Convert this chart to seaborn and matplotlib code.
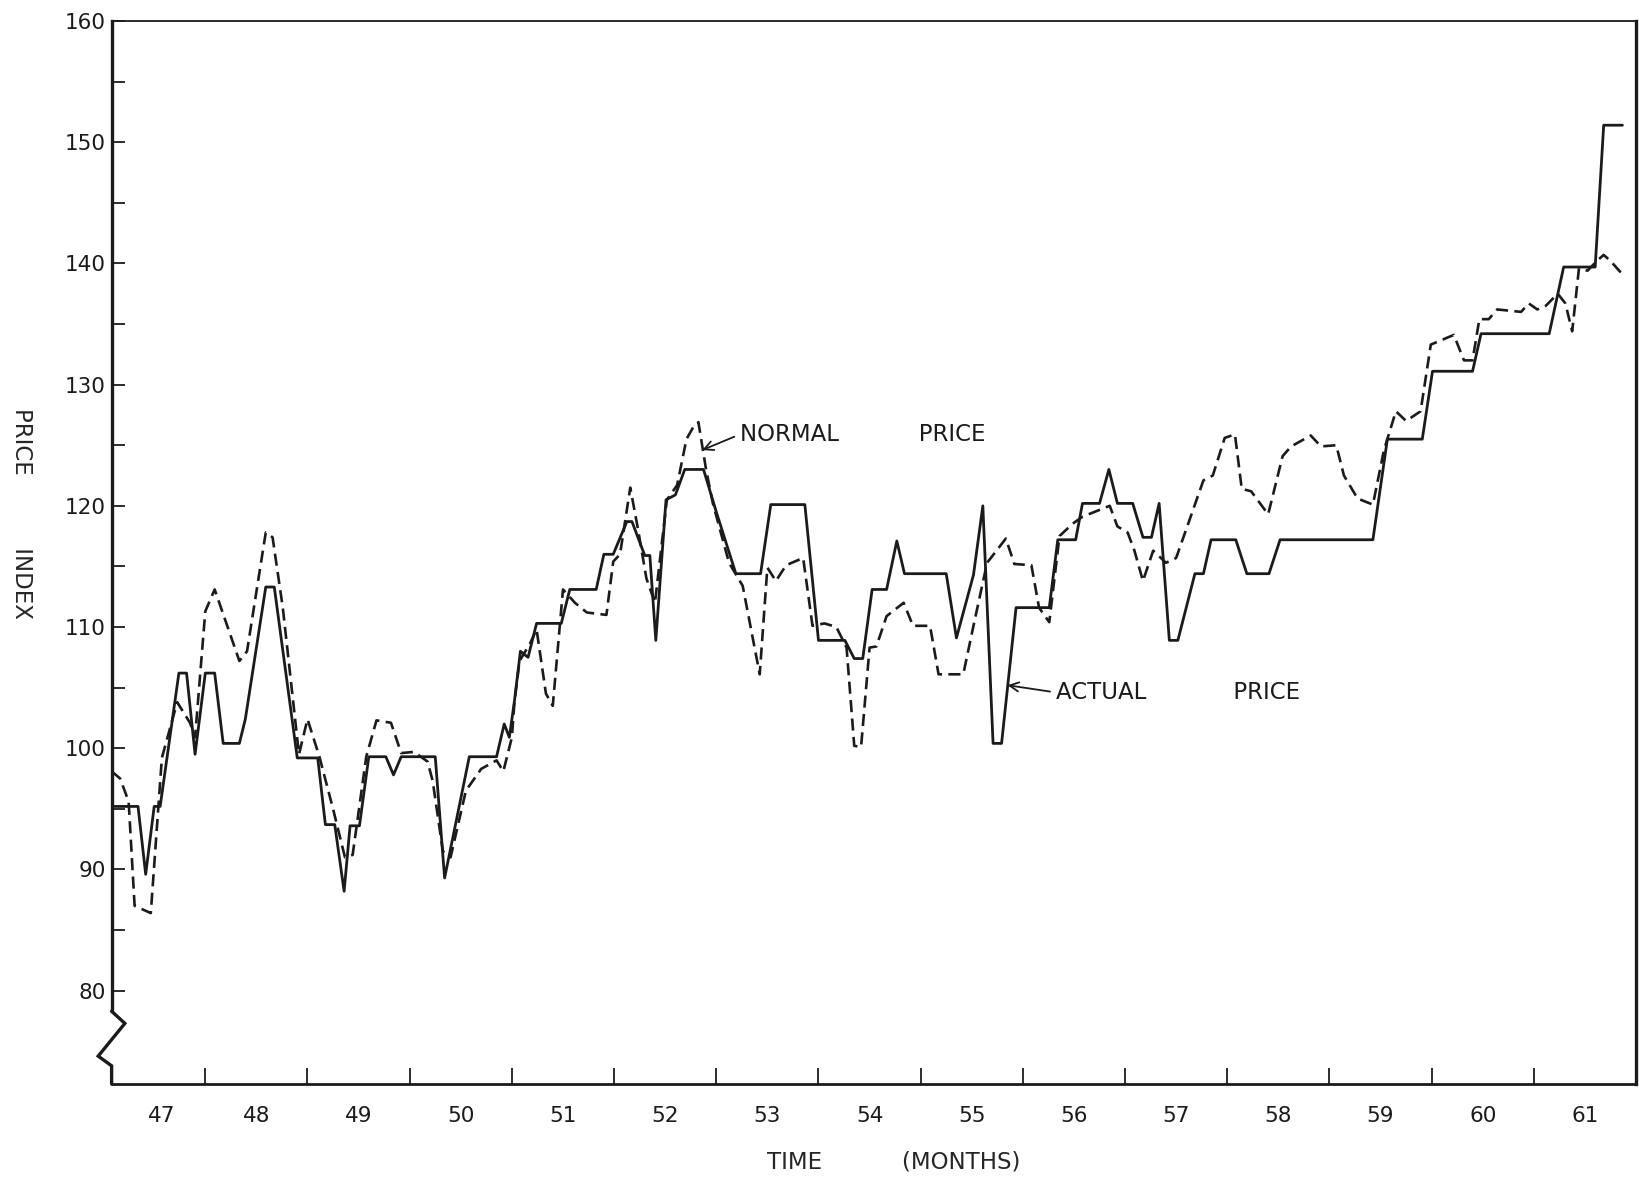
import matplotlib
matplotlib.use("Agg")
import matplotlib.pyplot as plt
import pandas as pd
import seaborn as sns

# Time axis: months counted from January 1947 (0 = Jan '47)
actual_month = [1.0, 4.1, 5.0, 6.0, 6.7, 8.9, 9.8, 10.8, 12.0, 13.1,
                14.1, 16.0, 16.7, 19.1, 20.1, 22.8, 25.2, 26.1, 27.2, 28.3,
                29.0, 30.1, 31.2, 33.2, 34.1, 35.0, 39.0, 40.1, 43.0, 46.2,
                47.1, 47.7, 48.3, 49.0, 49.9, 50.9, 53.8, 54.8, 57.9, 58.8,
                59.9, 61.5, 62.1, 63.6, 64.2, 64.9, 66.1, 67.2, 68.3, 70.5,
                72.0, 74.3, 77.2, 78.4, 82.4, 84.0, 87.1, 88.2, 89.2, 90.3,
                92.0, 93.2, 94.1, 99.0, 100.2, 102.2, 103.3, 104.5, 105.5, 107.2,
                111.1, 112.1, 114.2, 115.0, 117.0, 118.1, 119.1, 120.9, 122.1, 123.1,
                124.0, 125.2, 126.2, 128.2, 129.2, 130.1, 133.0, 134.3, 136.9, 138.2,
                149.1, 150.8, 154.9, 156.1, 160.8, 161.8, 169.8, 171.5, 175.2, 176.2,
                178.4]
actual_price = [95.2, 95.2, 89.6, 95.2, 95.2, 106.2, 106.2, 99.5, 106.2, 106.2,
                100.4, 100.4, 102.4, 113.3, 113.3, 99.2, 99.2, 93.7, 93.7, 88.2,
                93.6, 93.6, 99.3, 99.3, 97.8, 99.3, 99.3, 89.3, 99.3, 99.3,
                102.0, 100.9, 103.9, 108.0, 107.5, 110.3, 110.3, 113.1, 113.1, 116.0,
                116.0, 118.7, 118.7, 115.9, 115.9, 108.9, 120.5, 120.9, 123.0, 123.0,
                119.5, 114.4, 114.4, 120.1, 120.1, 108.9, 108.9, 107.4, 107.4, 113.1,
                113.1, 117.1, 114.4, 114.4, 109.1, 114.3, 120.0, 100.4, 100.4, 111.6,
                111.6, 117.2, 117.2, 120.2, 120.2, 123.0, 120.2, 120.2, 117.4, 117.4,
                120.2, 108.9, 108.9, 114.4, 114.4, 117.2, 117.2, 114.4, 114.4, 117.2,
                117.2, 125.5, 125.5, 131.1, 131.1, 134.2, 134.2, 139.7, 139.7, 151.4,
                151.4]

normal_month = [1.0, 2.0, 3.0, 3.7, 5.6, 6.9, 8.7, 10.2, 10.8, 12.0,
                13.1, 16.0, 16.9, 19.1, 19.9, 21.1, 23.0, 24.0, 25.4, 27.0,
                28.4, 29.3, 30.9, 32.1, 33.8, 35.0, 36.5, 38.1, 38.7, 39.9,
                40.8, 42.6, 44.4, 46.2, 47.0, 48.0, 48.3, 48.9, 50.1, 50.9,
                52.0, 52.8, 54.0, 55.4, 56.8, 59.1, 59.9, 60.7, 61.9, 62.8,
                63.8, 64.8, 66.2, 67.4, 68.5, 69.3, 69.9, 70.8, 71.6, 73.5,
                75.1, 77.1, 78.0, 79.0, 80.2, 82.2, 83.3, 84.7, 86.1, 87.3,
                88.2, 89.0, 90.0, 90.8, 92.0, 94.0, 95.1, 97.1, 98.1, 101.0,
                102.2, 103.8, 106.0, 107.0, 109.0, 109.9, 111.1, 112.3, 113.8, 115.0,
                118.2, 119.1, 120.3, 121.1, 122.1, 123.3, 124.8, 126.0, 129.2, 130.3,
                131.7, 132.9, 133.7, 134.8, 136.8, 138.5, 139.5, 141.8, 143.0, 144.8,
                145.7, 147.3, 149.1, 150.4, 151.8, 153.0, 154.7, 155.9, 158.6, 159.8,
                160.8, 161.6, 162.7, 163.7, 166.5, 167.4, 168.4, 169.4, 170.8, 171.7,
                172.5, 173.3, 174.3, 175.4, 176.2, 177.0, 178.4]
normal_price = [98.1, 97.5, 95.6, 87.0, 86.4, 99.2, 103.8, 102.1, 100.9, 111.3,
                113.1, 107.2, 108.0, 117.8, 117.4, 111.6, 99.5, 102.4, 99.3, 95.0,
                91.0, 91.2, 99.3, 102.3, 102.1, 99.6, 99.7, 98.9, 97.3, 91.5,
                91.0, 96.5, 98.3, 99.0, 98.1, 100.9, 103.8, 107.2, 108.6, 109.8,
                104.5, 103.5, 113.1, 112.0, 111.2, 111.0, 115.4, 116.0, 121.5, 118.1,
                114.0, 112.0, 120.5, 121.7, 125.5, 126.5, 126.9, 123.0, 120.2, 115.3,
                113.4, 106.1, 114.9, 113.8, 115.1, 115.7, 110.1, 110.3, 110.0, 108.3,
                100.2, 100.1, 108.3, 108.4, 110.9, 112.0, 110.1, 110.1, 106.1, 106.1,
                110.1, 115.3, 117.3, 115.2, 115.1, 111.6, 110.4, 117.5, 118.5, 119.1,
                120.0, 118.3, 117.8, 116.3, 113.8, 116.3, 115.3, 115.7, 122.1, 122.5,
                125.6, 125.9, 121.4, 121.2, 119.3, 124.1, 124.9, 125.8, 124.9, 125.0,
                122.5, 120.6, 120.1, 124.6, 127.8, 127.0, 127.8, 133.3, 134.1, 132.0,
                132.0, 135.4, 135.4, 136.2, 136.0, 136.7, 136.2, 136.5, 137.5, 136.7,
                134.4, 139.6, 139.4, 140.2, 140.7, 140.2, 139.1]

year_labels = ["47", "48", "49", "50", "51", "52", "53", "54",
               "55", "56", "57", "58", "59", "60", "61"]
y_major = [80, 90, 100, 110, 120, 130, 140, 150, 160]
y_minor = [85, 95, 105, 115, 125, 135, 145, 155]

INK = "#1b1b1b"

sns.set_style("ticks")
plt.rcParams["font.family"] = ["DejaVu Sans"]
plt.rcParams["text.color"] = INK
plt.rcParams["xtick.color"] = INK
plt.rcParams["ytick.color"] = INK

fig = plt.figure(figsize=(16.39, 11.78), dpi=100)
fig.patch.set_facecolor("white")
ax = fig.add_axes([0.0681, 0.0798, 0.9301, 0.9024])
ax.set_facecolor("white")

actual = pd.DataFrame({"month": actual_month, "price": actual_price})
normal = pd.DataFrame({"month": normal_month, "price": normal_price})

sns.lineplot(data=actual, x="month", y="price", ax=ax, color=INK,
             linewidth=2.0, estimator=None, sort=False)
sns.lineplot(data=normal, x="month", y="price", ax=ax, color=INK,
             linewidth=1.9, linestyle=(0, (4.6, 2.4)),
             estimator=None, sort=False)

ax.set_xlim(1.0, 180.0)
ax.set_ylim(72.3, 160)

# year boundaries carry the tick marks, the year numbers sit mid-year
ax.set_xticks(list(range(12, 180, 12)))
ax.set_xticklabels([])
label_pos = [6.9] + [12 * k + 6 for k in range(1, len(year_labels))]
ax.set_xticks(label_pos, minor=True)
ax.set_xticklabels(year_labels, minor=True, fontsize=15.5)
ax.tick_params(axis="x", which="major", direction="in", length=11.5,
               width=1.3, bottom=True, top=False)
ax.tick_params(axis="x", which="minor", length=0, pad=16)

ax.set_yticks(y_major)
ax.set_yticklabels([str(v) for v in y_major], fontsize=15.5)
ax.set_yticks(y_minor, minor=True)
ax.tick_params(axis="y", which="both", direction="in", length=9.5,
               width=1.3, left=True, right=False, pad=4)

for side, lw in (("left", 2.4), ("bottom", 2.0), ("top", 1.3), ("right", 2.4)):
    ax.spines[side].set_visible(True)
    ax.spines[side].set_linewidth(lw)
    ax.spines[side].set_color(INK)

# broken-scale zigzag at the foot of the price axis
ax.spines["left"].set_bounds(78.3, 160)
trans = ax.get_yaxis_transform()
ax.plot([0.0, 0.0087, -0.0088, 0.0, 0.0],
        [78.3, 77.3, 74.6, 73.8, 72.3],
        transform=trans, color=INK, lw=2.4, clip_on=False,
        solid_joinstyle="miter")

ax.set_xlabel("TIME           (MONTHS)", fontsize=16.5)
ax.xaxis.set_label_coords(0.5133, -0.0734)
ax.xaxis.label.set_verticalalignment("center")

ax.set_ylabel("PRICE          INDEX", fontsize=16.5, rotation=270)
ax.yaxis.set_label_coords(-0.0594, 0.537)
ax.yaxis.label.set_verticalalignment("center")
ax.yaxis.label.set_horizontalalignment("center")

arrow = dict(arrowstyle="->", color=INK, lw=1.3, shrinkA=2, shrinkB=0,
             relpos=(0.0, 0.5))
ax.annotate("NORMAL           PRICE", xy=(70.35, 124.6), xytext=(74.8, 125.9),
            fontsize=16.5, ha="left", va="center", arrowprops=arrow)
ax.annotate("ACTUAL            PRICE", xy=(106.2, 105.2), xytext=(111.9, 104.6),
            fontsize=16.5, ha="left", va="center", arrowprops=arrow)

fig.savefig("out.png", dpi=100, facecolor="white")
